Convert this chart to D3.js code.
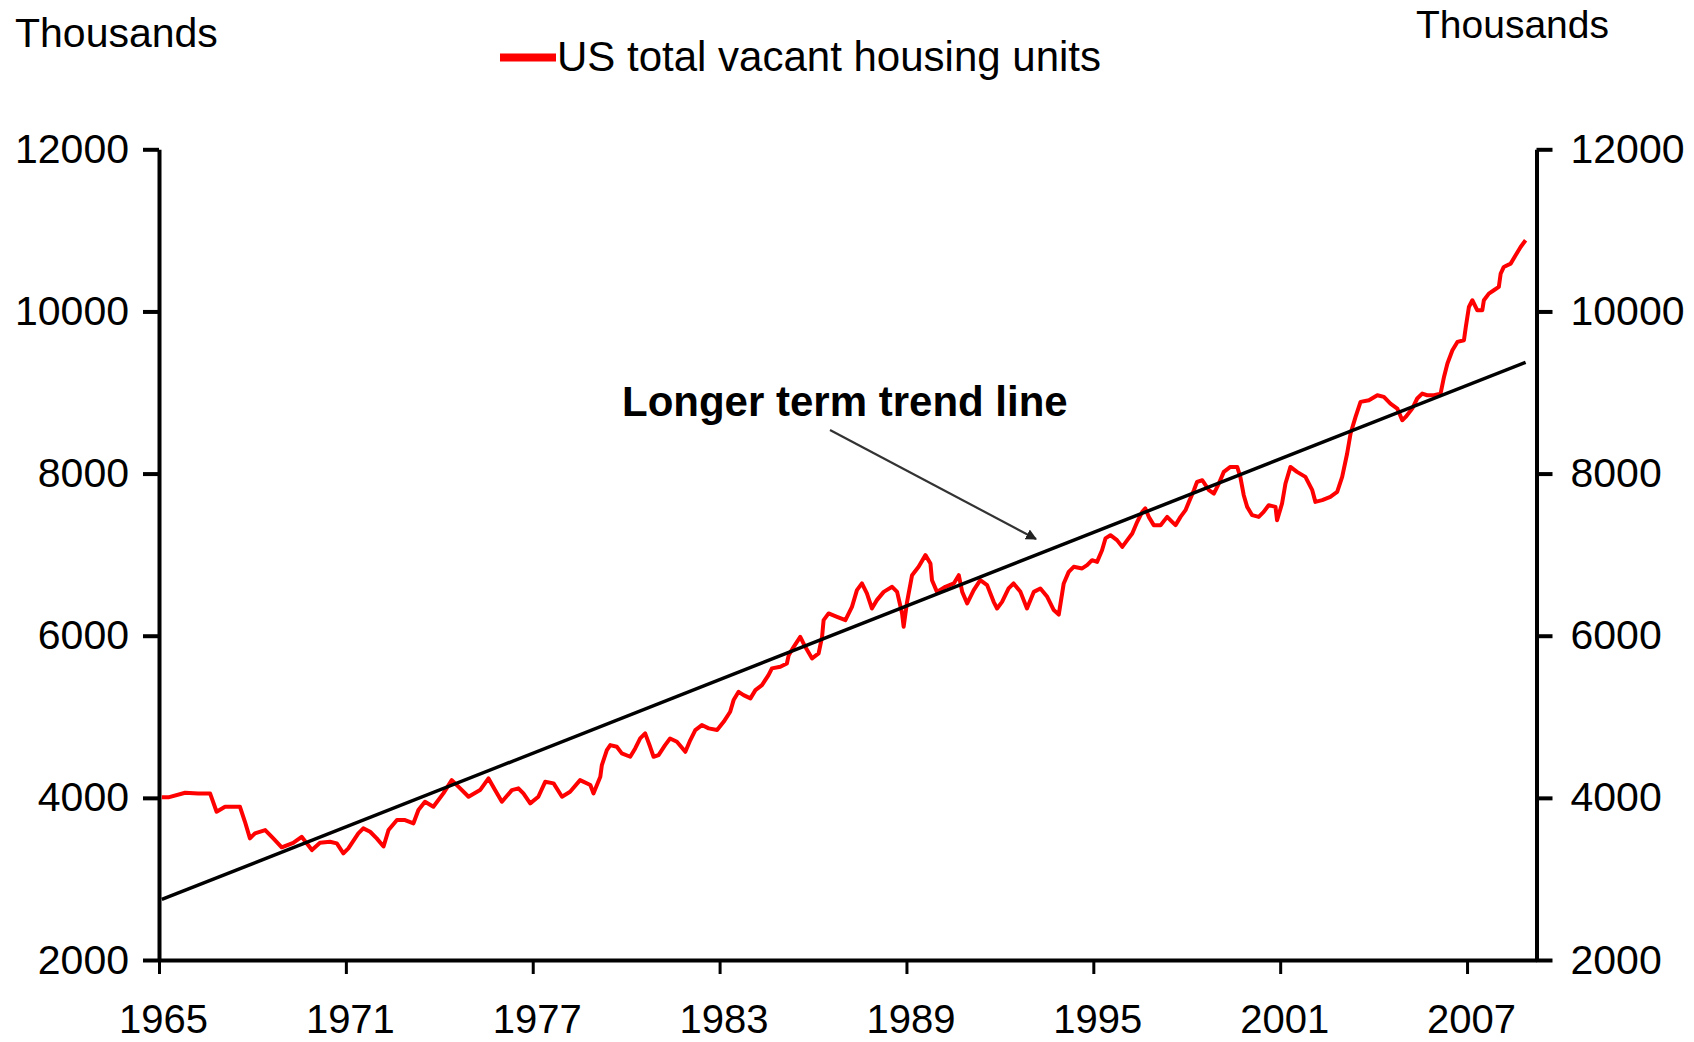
<!doctype html>
<html lang="en">

<head>
  <meta charset="utf-8">
  <title>US total vacant housing units</title>
  <style>
    body {
      margin: 0;
      background: #fff;
    }

    svg text {
      font-family: "Liberation Sans", Arial, sans-serif;
      fill: #000;
    }

    .axis path,
    .axis line {
      stroke: #000;
    }

    .axis text {
      font-size: 41px;
    }

    .axis.x text {
      font-size: 40px;
    }

    .series {
      fill: none;
      stroke: #ff0000;
      stroke-width: 4;
      stroke-linejoin: round;
    }

    .trend {
      stroke: #000;
      stroke-width: 3.5;
    }
  </style>
</head>

<body>
  <div id="chart"></div>

  <script src="https://d3js.org/d3.v7.min.js"></script>
  <script>
    // values (thousands of units)
    const yearTicks = [1965, 1971, 1977, 1983, 1989, 1995, 2001, 2007];
    const valueTicks = [2000, 4000, 6000, 8000, 10000, 12000];

    const years = [
      1965.09, 1965.30, 1965.84, 1966.26, 1966.64, 1966.85, 1967.12, 1967.60, 1967.76, 1967.92,
      1968.08, 1968.41, 1968.67, 1968.94, 1969.31, 1969.58, 1969.91, 1970.17, 1970.49, 1970.71,
      1970.92, 1971.08, 1971.40, 1971.56, 1971.78, 1971.99, 1972.21, 1972.37, 1972.64, 1972.90,
      1973.17, 1973.33, 1973.54, 1973.81, 1974.13, 1974.40, 1974.67, 1974.94, 1975.31, 1975.58,
      1975.79, 1976.01, 1976.33, 1976.54, 1976.70, 1976.92, 1977.18, 1977.40, 1977.67, 1977.94,
      1978.20, 1978.52, 1978.85, 1978.95, 1979.17, 1979.22, 1979.38, 1979.49, 1979.70, 1979.86,
      1980.13, 1980.29, 1980.45, 1980.61, 1980.77, 1980.88, 1981.04, 1981.25, 1981.41, 1981.63,
      1981.90, 1982.06, 1982.22, 1982.43, 1982.65, 1982.92, 1983.13, 1983.34, 1983.45, 1983.61,
      1983.77, 1983.99, 1984.15, 1984.36, 1984.57, 1984.68, 1984.95, 1985.16, 1985.22, 1985.38,
      1985.59, 1985.75, 1985.97, 1986.18, 1986.29, 1986.34, 1986.50, 1986.77, 1987.04, 1987.25,
      1987.41, 1987.57, 1987.73, 1987.89, 1988.05, 1988.27, 1988.54, 1988.70, 1988.86, 1988.91,
      1989.02, 1989.18, 1989.39, 1989.61, 1989.77, 1989.82, 1989.98, 1990.25, 1990.52, 1990.68,
      1990.79, 1990.95, 1991.16, 1991.37, 1991.59, 1991.80, 1991.91, 1992.07, 1992.28, 1992.44,
      1992.66, 1992.87, 1993.09, 1993.30, 1993.52, 1993.73, 1993.89, 1994.05, 1994.21, 1994.37,
      1994.64, 1994.80, 1994.96, 1995.12, 1995.28, 1995.39, 1995.55, 1995.76, 1995.93, 1996.09,
      1996.25, 1996.41, 1996.57, 1996.67, 1996.78, 1996.94, 1997.16, 1997.37, 1997.53, 1997.64,
      1997.80, 1997.96, 1998.07, 1998.23, 1998.33, 1998.50, 1998.71, 1998.87, 1999.03, 1999.19,
      1999.40, 1999.62, 1999.72, 1999.83, 1999.94, 2000.10, 2000.31, 2000.47, 2000.63, 2000.85,
      2000.90, 2001.06, 2001.17, 2001.33, 2001.54, 2001.81, 2002.03, 2002.13, 2002.35, 2002.61,
      2002.83, 2002.99, 2003.15, 2003.26, 2003.42, 2003.58, 2003.85, 2004.12, 2004.33, 2004.54,
      2004.76, 2004.92, 2005.03, 2005.24, 2005.40, 2005.56, 2005.72, 2005.94, 2006.15, 2006.26,
      2006.37, 2006.53, 2006.69, 2006.90, 2006.96, 2007.06, 2007.17, 2007.33, 2007.49, 2007.54,
      2007.70, 2007.86, 2008.02, 2008.08, 2008.18, 2008.40, 2008.56, 2008.72, 2008.88
    ];

    const vacant = [
      4006, 4006, 4063, 4055, 4055, 3829, 3890, 3890, 3705, 3500,
      3562, 3603, 3500, 3390, 3446, 3520, 3356, 3446, 3459, 3439,
      3316, 3377, 3562, 3624, 3582, 3500, 3400, 3603, 3726, 3726,
      3686, 3850, 3952, 3890, 4055, 4219, 4117, 4014, 4096, 4240,
      4096, 3952, 4096, 4117, 4055, 3932, 4014, 4198, 4179, 4014,
      4075, 4219, 4158, 4055, 4260, 4404, 4589, 4651, 4630, 4549,
      4507, 4610, 4733, 4795, 4630, 4507, 4528, 4651, 4733, 4692,
      4568, 4713, 4836, 4898, 4857, 4836, 4938, 5062, 5206, 5308,
      5267, 5227, 5329, 5391, 5514, 5597, 5617, 5658, 5761, 5863,
      5986, 5863, 5720, 5782, 5986, 6192, 6275, 6233, 6192, 6356,
      6562, 6645, 6521, 6336, 6439, 6541, 6603, 6541, 6275, 6110,
      6418, 6747, 6850, 6994, 6891, 6685, 6541, 6603, 6645, 6747,
      6541, 6398, 6562, 6685, 6624, 6418, 6336, 6418, 6583, 6645,
      6541, 6336, 6541, 6583, 6480, 6316, 6260, 6645, 6788, 6850,
      6830, 6870, 6932, 6911, 7055, 7200, 7240, 7179, 7096, 7179,
      7261, 7405, 7528, 7570, 7466, 7364, 7364, 7466, 7405, 7364,
      7466, 7549, 7651, 7795, 7898, 7918, 7795, 7754, 7877, 8021,
      8082, 8082, 7959, 7733, 7589, 7487, 7466, 7528, 7610, 7589,
      7425, 7631, 7878, 8082, 8021, 7959, 7795, 7651, 7672, 7713,
      7774, 7959, 8248, 8494, 8699, 8884, 8905, 8966, 8946, 8864,
      8802, 8658, 8699, 8802, 8926, 8987, 8966, 8966, 8987, 9192,
      9357, 9521, 9624, 9644, 9808, 10055, 10138, 10014, 10014, 10138,
      10220, 10261, 10302, 10467, 10549, 10590, 10693, 10795, 10878
    ];

    // straight longer term trend line, start and end
    const trendYears = [1965.09, 2008.88];
    const trendValues = [2748, 9373];

    const seriesName = 'US total vacant housing units';
    const unitLabel = 'Thousands';
    const trendLabel = 'Longer term trend line';

    const width = 1694;
    const height = 1042;
    const margin = { top: 149.3, right: 157.5, bottom: 82, left: 159 };

    const svg = d3.select('#chart')
      .append('svg')
      .attr('width', width)
      .attr('height', height)
      .style('display', 'block');

    const x = d3.scaleLinear()
      .domain([1965, 2009.23])
      .range([margin.left, width - margin.right]);

    const y = d3.scaleLinear()
      .domain([2000, 12000])
      .range([height - margin.bottom, margin.top]);

    // y axes on both sides
    const leftAxis = svg.append('g')
      .attr('class', 'axis')
      .attr('transform', 'translate(' + x.range()[0] + ',0)')
      .call(d3.axisLeft(y).tickValues(valueTicks).tickFormat(d3.format('d'))
        .tickSize(16).tickSizeOuter(0).tickPadding(14));

    const rightAxis = svg.append('g')
      .attr('class', 'axis')
      .attr('transform', 'translate(' + x.range()[1] + ',0)')
      .call(d3.axisRight(y).tickValues(valueTicks).tickFormat(d3.format('d'))
        .tickSize(16).tickSizeOuter(0).tickPadding(18));

    svg.selectAll('.axis path').attr('stroke-width', 4);
    leftAxis.selectAll('line').attr('stroke-width', 4);
    rightAxis.selectAll('line').attr('stroke-width', 4);

    const bottomAxis = svg.append('g')
      .attr('class', 'axis x')
      .attr('transform', 'translate(0,' + y.range()[0] + ')')
      .call(d3.axisBottom(x).tickValues(yearTicks).tickFormat(d3.format('d'))
        .tickSize(14).tickSizeOuter(0).tickPadding(30.5));

    bottomAxis.select('path').attr('stroke-width', 4);
    bottomAxis.selectAll('line').attr('stroke-width', 3);
    bottomAxis.selectAll('text').attr('dx', 4);

    // data line
    const points = years.map((yr, i) => [yr, vacant[i]]);

    const line = d3.line()
      .x(d => x(d[0]))
      .y(d => y(d[1]));

    svg.append('path')
      .datum(points)
      .attr('class', 'series')
      .attr('d', line);

    // trend line on top
    svg.append('line')
      .attr('class', 'trend')
      .attr('x1', x(trendYears[0]))
      .attr('y1', y(trendValues[0]))
      .attr('x2', x(trendYears[1]))
      .attr('y2', y(trendValues[1]));

    // annotation with arrow
    svg.append('defs')
      .append('marker')
      .attr('id', 'head')
      .attr('viewBox', '0 0 10 10')
      .attr('refX', 9)
      .attr('refY', 5)
      .attr('markerWidth', 5)
      .attr('markerHeight', 5)
      .attr('orient', 'auto')
      .append('path')
      .attr('d', 'M0,0 L10,5 L0,10 z')
      .attr('fill', '#222');

    svg.append('text')
      .attr('x', 622)
      .attr('y', 416)
      .style('font-size', '42px')
      .style('font-weight', 'bold')
      .text(trendLabel);

    svg.append('line')
      .attr('x1', 830)
      .attr('y1', 430)
      .attr('x2', 1036)
      .attr('y2', 539)
      .attr('stroke', '#333')
      .attr('stroke-width', 2.2)
      .attr('marker-end', 'url(#head)');

    // unit labels
    svg.append('text')
      .attr('x', 15)
      .attr('y', 47)
      .style('font-size', '41px')
      .text(unitLabel);

    svg.append('text')
      .attr('x', 1416)
      .attr('y', 38)
      .style('font-size', '39px')
      .text(unitLabel);

    // legend
    const legend = svg.append('g');

    legend.append('line')
      .attr('x1', 500)
      .attr('x2', 556)
      .attr('y1', 57.5)
      .attr('y2', 57.5)
      .attr('stroke', '#ff0000')
      .attr('stroke-width', 8);

    legend.append('text')
      .attr('x', 557)
      .attr('y', 71)
      .style('font-size', '42px')
      .text(seriesName);
  </script>
</body>

</html>
